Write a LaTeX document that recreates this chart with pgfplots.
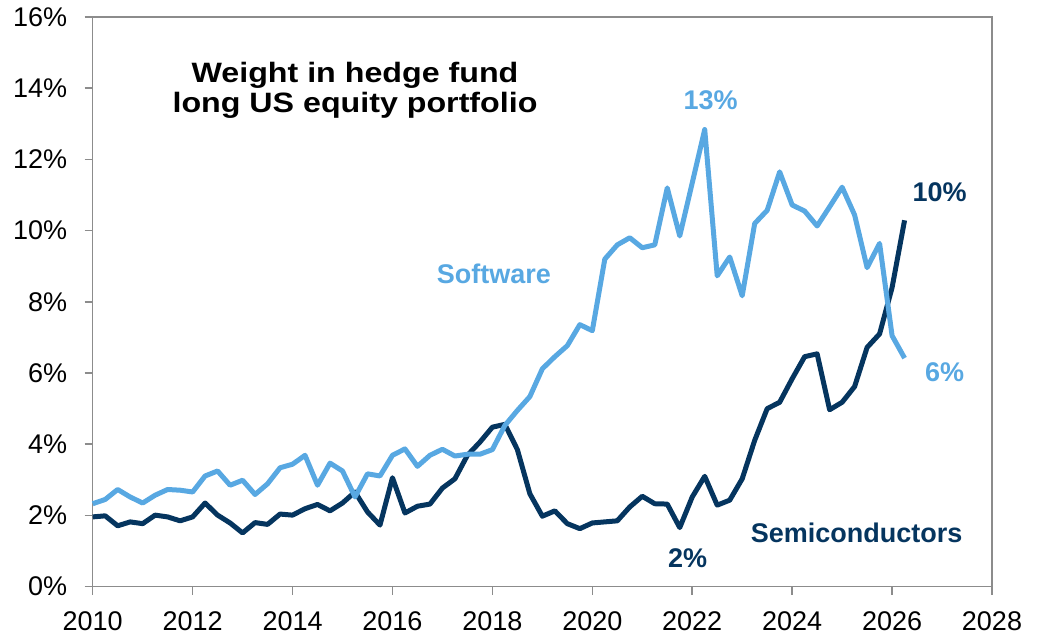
\documentclass[border=0pt]{standalone}
\usepackage{fontspec}
\setmainfont{Liberation Sans}
\newfontfamily\titlefont[FakeStretch=1.15]{Liberation Sans}
\usepackage{pgfplots}
\pgfplotsset{compat=1.18}
\begin{document}
\begin{tikzpicture}

% Colores
\definecolor{colSoft}{HTML}{58A8E2}
\definecolor{colSemi}{HTML}{05355F}
\definecolor{colAxis}{HTML}{8C8C8C}

% Caja de la figura (1px = 1pt, eje en el origen)
\path[use as bounding box] (-92.7pt,-50.3pt) rectangle (944.3pt,586.7pt);

\begin{axis}[
    scale only axis,
    width=899.3pt, height=569.7pt,
    xmin=2010, xmax=2028,
    ymin=0, ymax=16,
    xtick={2010,2012,...,2028},
    ytick={0,2,...,16},
    yticklabel={\pgfmathprintnumber{\tick}\%},
    xticklabel style={/pgf/number format/1000 sep={}, yshift=-13pt},
    yticklabel style={xshift=-14pt},
    /pgf/number format/assume math mode=true,
    tick label style={font=\fontsize{27}{32}\selectfont, text=black},
    xtick pos=bottom, ytick pos=left,
    tick align=outside,
    major tick length=8pt,
    axis line style={draw=colAxis, line width=1.6pt},
    tick style={draw=colAxis, line width=1.6pt},
    every axis plot/.append style={line width=5pt, line join=round, mark=none},
    clip=false,
]

% Semiconductores
\addplot[colSemi] coordinates {
(2010.00,1.96) (2010.25,1.99) (2010.50,1.71) (2010.75,1.82)
(2011.00,1.77) (2011.25,2.01) (2011.50,1.96) (2011.75,1.85)
(2012.00,1.96) (2012.25,2.35) (2012.50,2.01) (2012.75,1.79)
(2013.00,1.51) (2013.25,1.80) (2013.50,1.75) (2013.75,2.04)
(2014.00,2.01) (2014.25,2.19) (2014.50,2.31) (2014.75,2.13)
(2015.00,2.35) (2015.25,2.66) (2015.50,2.10) (2015.75,1.73)
(2016.00,3.06) (2016.25,2.07) (2016.50,2.26) (2016.75,2.32)
(2017.00,2.77) (2017.25,3.03) (2017.50,3.69) (2017.75,4.06)
(2018.00,4.48) (2018.25,4.56) (2018.50,3.85) (2018.75,2.61)
(2019.00,1.98) (2019.25,2.13) (2019.50,1.77) (2019.75,1.63)
(2020.00,1.79) (2020.25,1.82) (2020.50,1.85) (2020.75,2.24)
(2021.00,2.54) (2021.25,2.33) (2021.50,2.32) (2021.75,1.66)
(2022.00,2.52) (2022.25,3.10) (2022.50,2.29) (2022.75,2.43)
(2023.00,3.03) (2023.25,4.11) (2023.50,5.00) (2023.75,5.18)
(2024.00,5.84) (2024.25,6.46) (2024.50,6.54) (2024.75,4.97)
(2025.00,5.18) (2025.25,5.62) (2025.50,6.72) (2025.75,7.10)
(2026.00,8.40) (2026.25,10.29)
};

% Software
\addplot[colSoft] coordinates {
(2010.00,2.33) (2010.25,2.45) (2010.50,2.73) (2010.75,2.52)
(2011.00,2.35) (2011.25,2.57) (2011.50,2.73) (2011.75,2.71)
(2012.00,2.66) (2012.25,3.11) (2012.50,3.25) (2012.75,2.85)
(2013.00,2.99) (2013.25,2.59) (2013.50,2.89) (2013.75,3.34)
(2014.00,3.44) (2014.25,3.69) (2014.50,2.85) (2014.75,3.47)
(2015.00,3.25) (2015.25,2.52) (2015.50,3.17) (2015.75,3.11)
(2016.00,3.69) (2016.25,3.87) (2016.50,3.38) (2016.75,3.69)
(2017.00,3.86) (2017.25,3.67) (2017.50,3.72) (2017.75,3.72)
(2018.00,3.85) (2018.25,4.53) (2018.50,4.95) (2018.75,5.34)
(2019.00,6.12) (2019.25,6.46) (2019.50,6.77) (2019.75,7.36)
(2020.00,7.19) (2020.25,9.20) (2020.50,9.60) (2020.75,9.80)
(2021.00,9.52) (2021.25,9.60) (2021.50,11.20) (2021.75,9.85)
(2022.00,11.34) (2022.25,12.84) (2022.50,8.73) (2022.75,9.26)
(2023.00,8.17) (2023.25,10.20) (2023.50,10.57) (2023.75,11.65)
(2024.00,10.72) (2024.25,10.55) (2024.50,10.13) (2024.75,10.67)
(2025.00,11.22) (2025.25,10.44) (2025.50,8.96) (2025.75,9.64)
(2026.00,7.05) (2026.25,6.42)
};

% Título
\node[anchor=base, font=\titlefont\bfseries\fontsize{28}{32}\selectfont] at (axis cs:2015.25,14.16) {Weight in hedge fund};
\node[anchor=base, font=\titlefont\bfseries\fontsize{28}{32}\selectfont] at (axis cs:2015.25,13.31) {long US equity portfolio};

% Etiquetas
\tikzset{lbl/.style={font=\bfseries\fontsize{27}{32}\selectfont, inner sep=0pt}}
\node[lbl, text=colSoft] at (axis cs:2022.37,13.67) {13\%};
\node[lbl, text=colSoft] at (axis cs:2018.03,8.78) {Software};
\node[lbl, text=colSemi] at (axis cs:2026.95,11.09) {10\%};
\node[lbl, text=colSoft] at (axis cs:2027.05,6.03) {6\%};
\node[lbl, text=colSemi] at (axis cs:2021.91,0.81) {2\%};
\node[lbl, text=colSemi] at (axis cs:2025.29,1.51) {Semiconductors};

\end{axis}
\end{tikzpicture}
\end{document}
